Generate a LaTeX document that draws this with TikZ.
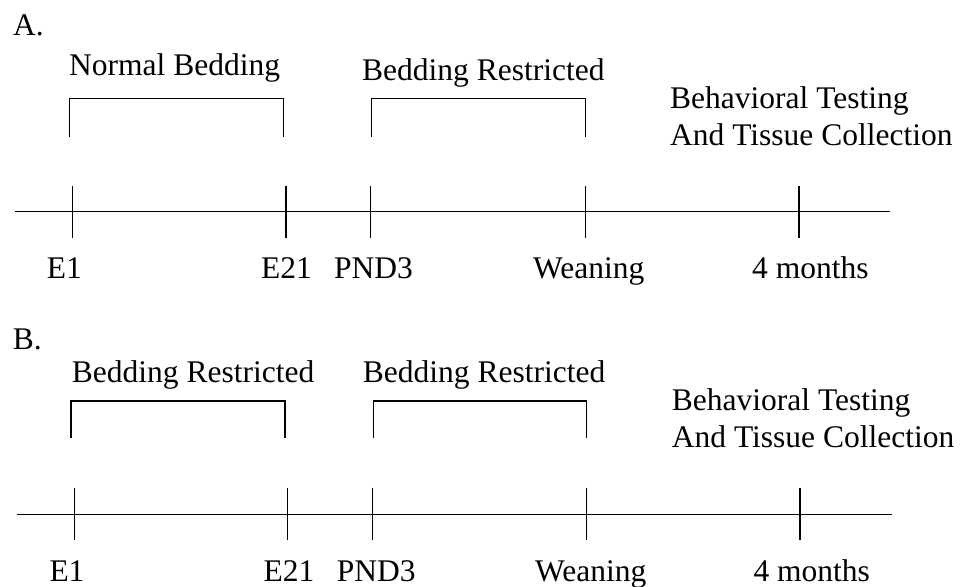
\documentclass[tikz,border=0pt]{standalone}
\usepackage{fontspec}
\setmainfont{Liberation Serif}
\begin{document}
\begin{tikzpicture}[x=1pt,y=-1pt,
  lbl/.style={inner sep=0pt,anchor=base west,font=\fontsize{31.5}{37}\selectfont},
  ln/.style={line width=1.3pt,black}]
\useasboundingbox (0,0) rectangle (960,586);
% ---------- Panel A ----------
\node[lbl] (A) at (13,36) {A.};
\node[lbl] (nb) at (69,75) {Normal Bedding};
\node[lbl] (brA) at (362,80) {Bedding Restricted};
\node[lbl] (btA1) at (670,108) {Behavioral Testing};
\node[lbl] (btA2) at (670,145) {And Tissue Collection};
% bracket A1
\coordinate (a1l) at (69.3,136.7); \coordinate (a1r) at (283.3,136.7);
\draw[ln] (a1l) |- (176,98.7) -| (a1r);
% bracket A2
\coordinate (a2l) at (371.7,136.7); \coordinate (a2r) at (585.3,136.7);
\draw[ln] (a2l) |- (478,98.7) -| (a2r);
% timeline A
\coordinate (tAs) at (15,211.7); \coordinate (tAe) at (890,211.7);
\draw[ln] (tAs) -- (tAe);
\foreach \x/\n in {72.7/1,286/2,370.7/3,585.3/4,799/5}{
  \coordinate (tA\n t) at (\x,186); \coordinate (tA\n b) at (\x,238.3);
  \draw[ln] (tA\n t) -- (tA\n b);}
\node[lbl] (e1A) at (46.7,278) {E1};
\node[lbl] (e21A) at (261,278) {E21};
\node[lbl] (pndA) at (334,278) {PND3};
\node[lbl] (wA) at (533,278) {Weaning};
\node[lbl] (mA) at (752,278) {4 months};
% ---------- Panel B ----------
\node[lbl] (B) at (12.7,349) {B.};
\node[lbl] (brB1) at (71.7,382.7) {Bedding Restricted};
\node[lbl] (brB2) at (362.7,382.7) {Bedding Restricted};
\node[lbl] (btB1) at (671.7,410.3) {Behavioral Testing};
\node[lbl] (btB2) at (671.7,447.7) {And Tissue Collection};
% bracket B1
\coordinate (b1l) at (71,438.3); \coordinate (b1r) at (285,438.3);
\draw[ln] (b1l) |- (178,401) -| (b1r);
% bracket B2
\coordinate (b2l) at (373.3,438.3); \coordinate (b2r) at (586.7,438.3);
\draw[ln] (b2l) |- (480,401) -| (b2r);
% timeline B
\coordinate (tBs) at (16.7,514.3); \coordinate (tBe) at (891.7,514.3);
\draw[ln] (tBs) -- (tBe);
\foreach \x/\n in {74.3/1,287.7/2,372.7/3,586.7/4,800/5}{
  \coordinate (tB\n t) at (\x,487.7); \coordinate (tB\n b) at (\x,540.3);
  \draw[ln] (tB\n t) -- (tB\n b);}
\node[lbl] (e1B) at (49.3,581) {E1};
\node[lbl] (e21B) at (263.3,581) {E21};
\node[lbl] (pndB) at (336.7,581) {PND3};
\node[lbl] (wB) at (535,581) {Weaning};
\node[lbl] (mB) at (753.3,581) {4 months};
\end{tikzpicture}
\end{document}
